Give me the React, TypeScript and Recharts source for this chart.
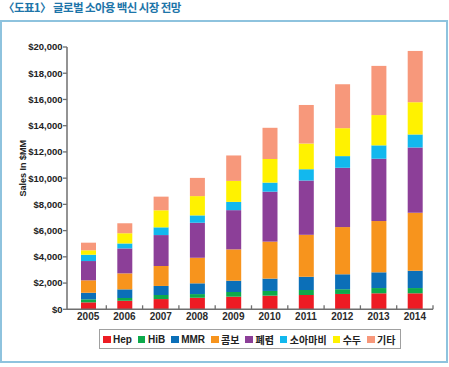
import { BarChart, Bar, XAxis, YAxis, Legend } from 'recharts';

const YEARS = ['2005', '2006', '2007', '2008', '2009', '2010', '2011', '2012', '2013', '2014'];

// $MM, stacked bottom to top
const HEP = [530, 650, 780, 880, 960, 1040, 1090, 1170, 1220, 1220];
const HIB = [230, 210, 310, 280, 360, 360, 380, 360, 400, 400];
const MMR = [500, 660, 690, 820, 860, 940, 1010, 1140, 1200, 1320];
const COMBO = [950, 1220, 1520, 1950, 2390, 2820, 3200, 3600, 3910, 4420];
const PNEUMO = [1470, 1900, 2360, 2670, 2990, 3810, 4140, 4520, 4750, 4980];
const POLIO = [480, 380, 590, 560, 630, 690, 860, 890, 1020, 990];
const VARICELLA = [340, 780, 1300, 1470, 1600, 1800, 1960, 2130, 2310, 2460];
const OTHER = [580, 760, 1040, 1390, 1940, 2380, 2940, 3350, 3750, 3910];

const Y_TICKS = [0, 2000, 4000, 6000, 8000, 10000, 12000, 14000, 16000, 18000, 20000];

const SERIES = [
  { key: 'hep', name: 'Hep', color: '#ed1c24', values: HEP },
  { key: 'hib', name: 'HiB', color: '#0daa4b', values: HIB },
  { key: 'mmr', name: 'MMR', color: '#0b6fb8', values: MMR },
  { key: 'combo', name: '콤보', color: '#f7941d', values: COMBO },
  { key: 'pneumo', name: '폐렴', color: '#8c3f98', values: PNEUMO },
  { key: 'polio', name: '소아마비', color: '#12b8ee', values: POLIO },
  { key: 'varicella', name: '수두', color: '#fff200', values: VARICELLA },
  { key: 'other', name: '기타', color: '#f7987b', values: OTHER },
];

const data = YEARS.map((year, i) => {
  const row: Record<string, string | number> = { year };
  SERIES.forEach((s) => {
    row[s.key] = s.values[i];
  });
  return row;
});

const FONT = '"Liberation Sans", Arial, "Noto Sans CJK KR", sans-serif';
const AXIS_COLOR = '#6f6f6f';
const ORDER = SERIES.map((s) => s.key);

function YearTick(props: any) {
  const { x, y, payload } = props;
  const half = payload?.offset ?? 18;
  return (
    <g>
      <line x1={x + half} y1={y} x2={x + half} y2={y - 4} stroke={AXIS_COLOR} strokeWidth={1.3} />
      <text x={x} y={y + 10.5} textAnchor="middle" fontSize={10} fontWeight="bold" fill="#2b2b2b" fontFamily={FONT}>
        {payload.value}
      </text>
    </g>
  );
}

function LegendBox(props: any) {
  // keep the stacking order, not the alphabetical one
  const items = [...(props.payload || [])].sort(
    (a: any, b: any) => ORDER.indexOf(a.dataKey) - ORDER.indexOf(b.dataKey)
  );
  return (
    <div
      style={{
        display: 'inline-flex',
        alignItems: 'center',
        boxSizing: 'border-box',
        height: 20,
        border: '1px solid #a0a0a0',
        padding: '0 5px 0 3px',
        background: '#fff',
        fontFamily: FONT,
        fontSize: 10,
        fontWeight: 'bold',
        color: '#222',
        whiteSpace: 'nowrap',
      }}
    >
      {items.map((it: any, i: number) => (
        <span key={i} style={{ display: 'inline-flex', alignItems: 'center', marginRight: i === items.length - 1 ? 0 : 6 }}>
          <span style={{ display: 'inline-block', width: 7.5, height: 7.5, background: it.color, marginRight: 2.5 }} />
          {it.value}
        </span>
      ))}
    </div>
  );
}

export default function App() {
  return (
    <div style={{ position: 'absolute', left: 0, top: 0, width: 449, height: 367, background: '#fff', overflow: 'hidden' }}>
      <div
        style={{
          position: 'absolute',
          left: 3,
          top: 0,
          lineHeight: '14px',
          fontSize: 11.5,
          fontWeight: 'bold',
          letterSpacing: -0.6,
          color: '#1d75a9',
          fontFamily: '"Noto Sans CJK KR", sans-serif',
          whiteSpace: 'nowrap',
        }}
      >
        〈도표1〉 글로벌 소아용 백신 시장 전망
      </div>
      <div
        style={{
          position: 'absolute',
          left: 0,
          top: 20,
          width: 448,
          height: 343,
          boxSizing: 'border-box',
          border: '2px solid #8ec3de',
        }}
      />
      <div style={{ position: 'absolute', left: 0, top: 0 }}>
        <BarChart width={449} height={367} data={data} margin={{ top: 47, right: 16, bottom: 37.7, left: 0 }}>
          <XAxis
            dataKey="year"
            height={20}
            padding={{ left: 3, right: 0 }}
            tickLine={false}
            tickSize={0}
            tickMargin={0}
            axisLine={{ stroke: AXIS_COLOR, strokeWidth: 1.5 }}
            tick={<YearTick />}
            interval={0}
          />
          <YAxis
            width={67}
            domain={[0, 20000]}
            ticks={Y_TICKS}
            interval={0}
            tickSize={4}
            tickMargin={0.5}
            tickLine={{ stroke: AXIS_COLOR, strokeWidth: 1.3 }}
            axisLine={{ stroke: AXIS_COLOR, strokeWidth: 1.5 }}
            tickFormatter={(v: number) => '$' + v.toLocaleString('en-US')}
            tick={{ fontSize: 9.5, fontWeight: 'bold', fill: '#222', fontFamily: FONT }}
            label={{
              content: (p: any) => {
                const vb = p.viewBox || { x: 0, y: 47, height: 262 };
                const cx = vb.x + 23;
                const cy = vb.y + vb.height / 2 - 10;
                return (
                  <text
                    x={cx}
                    y={cy}
                    transform={`rotate(-90 ${cx} ${cy})`}
                    textAnchor="middle"
                    dominantBaseline="central"
                    fontSize={9}
                    fontWeight="bold"
                    fill="#222"
                    fontFamily={FONT}
                  >
                    Sales In $MM
                  </text>
                );
              },
            }}
          />
          <Legend
            verticalAlign="middle"
            align="center"
            layout="horizontal"
            content={<LegendBox />}
            wrapperStyle={{ left: 99, top: 329, width: 'auto' }}
          />
          {SERIES.map((s) => (
            <Bar key={s.key} dataKey={s.key} name={s.name} stackId="a" fill={s.color} barSize={15} isAnimationActive={false} />
          ))}
        </BarChart>
      </div>
    </div>
  );
}
